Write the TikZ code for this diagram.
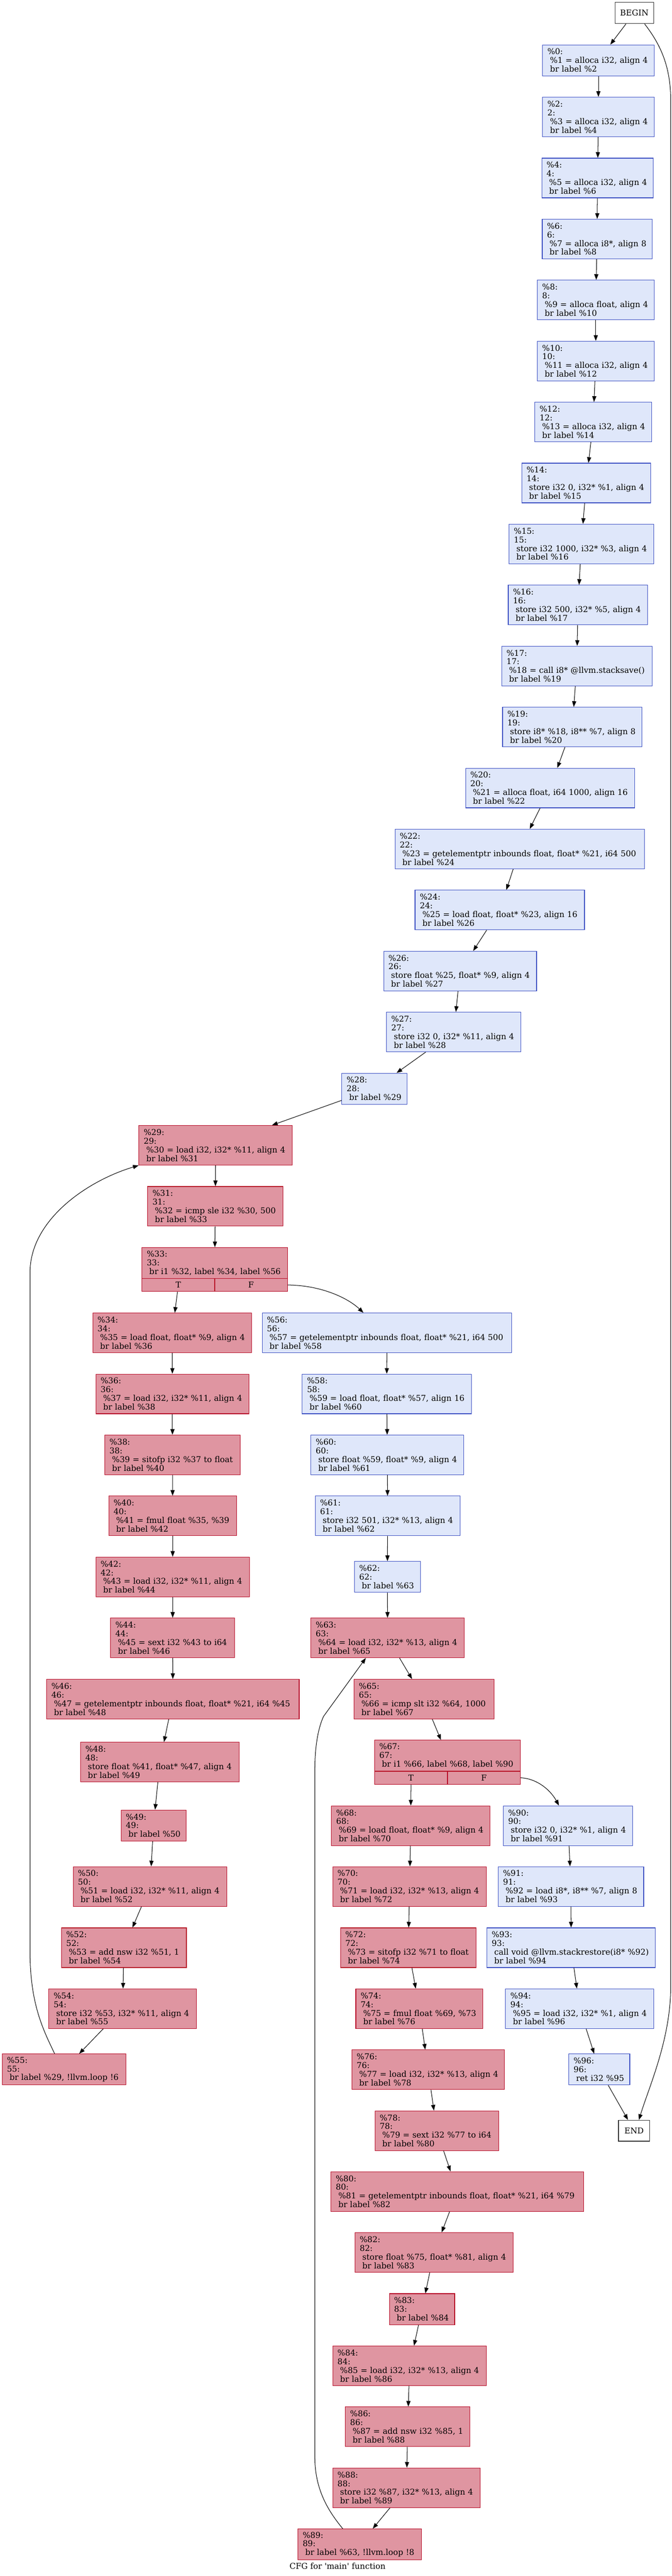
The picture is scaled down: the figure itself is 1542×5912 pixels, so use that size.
\documentclass[tikz,border=0pt]{standalone}
\usepackage{fontspec}
\setmainfont{DejaVu Serif}
\usetikzlibrary{arrows.meta,calc}
\definecolor{rfill}{HTML}{DF95A1}
\definecolor{rdraw}{HTML}{B70D28}
\definecolor{bfill}{HTML}{DFE7FA}
\definecolor{bdraw}{HTML}{3D50C3}
\newcommand\myind{\hspace*{0.318em}}
\newcommand\instr[1]{\mbox{\myind#1}}
\newcommand\blkfour[3]{\%#1:\\#1:\\\instr{#2}\\\instr{#3}}
\newcommand\blkthree[2]{\%#1:\\#1:\\\instr{#2}}
\newcommand\cfgfont{\fontsize{18.5}{20}\selectfont}
\tikzset{
  base/.style={rectangle, draw, line width=1.3pt, inner xsep=11pt, inner ysep=0pt,
    align=left, font=\cfgfont, minimum height=91pt},
  rn/.style={base, fill=rfill, draw=rdraw},
  bn/.style={base, fill=bfill, draw=bdraw},
  h3/.style={minimum height=71pt},
  bw/.code={\pgfmathsetmacro\tw{#1-22}\edef\tmp{\noexpand\tikzset{minimum width=#1pt,text width=\tw pt}}\tmp},
  cell/.style={rectangle, draw=rdraw, fill=rfill, line width=1.3pt, minimum height=30pt,
    inner sep=0pt, font=\cfgfont},
  term/.style={rectangle, draw=black!80, line width=1.5pt, fill=white, font=\cfgfont, inner sep=0pt},
  edge/.style={draw=black, line width=1.2pt, -{Triangle[length=13pt,width=9.5pt]}}
}
\begin{document}
\begin{tikzpicture}[x=1pt,y=-1pt]
\useasboundingbox (0,0) rectangle (1542,5912);
% terminals
\node[term, minimum width=89pt, minimum height=49pt] (nbegin) at (1456.5,29.5) {BEGIN};
\node[term, minimum width=72pt, minimum height=48pt] (nend) at (1456,4890) {END};
% entry chain
\node[bn,h3,bw=256] (n0) at (1374,138.5) {\%0:\\\instr{\%1 = alloca i32, align 4}\\\instr{br label \%2}};
\node[bn,bw=256] (n2) at (1374,268.5) {\blkfour{2}{\%3 = alloca i32, align 4}{br label \%4}};
\node[bn,bw=256] (n4) at (1372,408.5) {\blkfour{4}{\%5 = alloca i32, align 4}{br label \%6}};
\node[bn,bw=252] (n6) at (1371,548.5) {\blkfour{6}{\%7 = alloca i8*, align 8}{br label \%8}};
\node[bn,bw=268] (n8) at (1368,688.5) {\blkfour{8}{\%9 = alloca float, align 4}{br label \%10}};
\node[bn,bw=268] (n10) at (1368,828.5) {\blkfour{10}{\%11 = alloca i32, align 4}{br label \%12}};
\node[bn,bw=268] (n12) at (1362,968.5) {\blkfour{12}{\%13 = alloca i32, align 4}{br label \%14}};
\node[bn,bw=296] (n14) at (1346,1108.5) {\blkfour{14}{store i32 0, i32* \%1, align 4}{br label \%15}};
\node[bn,bw=332] (n15) at (1335,1248.5) {\blkfour{15}{store i32 1000, i32* \%3, align 4}{br label \%16}};
\node[bn,bw=320] (n16) at (1327,1388.5) {\blkfour{16}{store i32 500, i32* \%5, align 4}{br label \%17}};
\node[bn,bw=345] (n17) at (1324.5,1528.5) {\blkfour{17}{\%18 = call i8* @llvm.stacksave()}{br label \%19}};
\node[bn,bw=320] (n19) at (1314,1668.5) {\blkfour{19}{store i8* \%18, i8** \%7, align 8}{br label \%20}};
\node[bn,bw=388] (n20) at (1263,1808.5) {\blkfour{20}{\%21 = alloca float, i64 1000, align 16}{br label \%22}};
\node[bn,bw=573] (n22) at (1193.5,1948.5) {\blkfour{22}{\%23 = getelementptr inbounds float, float* \%21, i64 500}{br label \%24}};
\node[bn,bw=389] (n24) at (1147.5,2088.5) {\blkfour{24}{\%25 = load float, float* \%23, align 16}{br label \%26}};
\node[bn,bw=351] (n26) at (1056.5,2228.5) {\blkfour{26}{store float \%25, float* \%9, align 4}{br label \%27}};
\node[bn,bw=309] (n27) at (1042,2368.5) {\blkfour{27}{store i32 0, i32* \%11, align 4}{br label \%28}};
\node[bn,h3,bw=150] (n28) at (860,2498.5) {\blkthree{28}{br label \%29}};
% first loop
\node[rn,bw=352] (n29) at (495,2628.5) {\blkfour{29}{\%30 = load i32, i32* \%11, align 4}{br label \%31}};
\node[rn,bw=311] (n31) at (494.5,2768.5) {\blkfour{31}{\%32 = icmp sle i32 \%30, 500}{br label \%33}};
\node[rn,h3,bw=334] (n33) at (493,2898.5) {\blkthree{33}{br i1 \%32, label \%34, label \%56}};
\node[cell, minimum width=167pt] (n33T) at (409.5,2949) {T};
\node[cell, minimum width=167pt] (n33F) at (576.5,2949) {F};
\node[rn,bw=365] (n34) at (395.5,3059) {\blkfour{34}{\%35 = load float, float* \%9, align 4}{br label \%36}};
\node[rn,bw=352] (n36) at (396,3199) {\blkfour{36}{\%37 = load i32, i32* \%11, align 4}{br label \%38}};
\node[rn,bw=311] (n38) at (396,3339) {\blkfour{38}{\%39 = sitofp i32 \%37 to float}{br label \%40}};
\node[rn,bw=293] (n40) at (396.5,3479) {\blkfour{40}{\%41 = fmul float \%35, \%39}{br label \%42}};
\node[rn,bw=353] (n42) at (396.5,3619) {\blkfour{42}{\%43 = load i32, i32* \%11, align 4}{br label \%44}};
\node[rn,bw=285] (n44) at (396.5,3759) {\blkfour{44}{\%45 = sext i32 \%43 to i64}{br label \%46}};
\node[rn,bw=580] (n46) at (397,3899.5) {\blkfour{46}{\%47 = getelementptr inbounds float, float* \%21, i64 \%45}{br label \%48}};
\node[rn,bw=364] (n48) at (367,4044) {\blkfour{48}{store float \%41, float* \%47, align 4}{br label \%49}};
\node[rn,h3,bw=149] (n49) at (352.5,4189.5) {\blkthree{49}{br label \%50}};
\node[rn,bw=353] (n50) at (344.5,4329.5) {\blkfour{50}{\%51 = load i32, i32* \%11, align 4}{br label \%52}};
\node[rn,bw=287] (n52) at (284.5,4470) {\blkfour{52}{\%53 = add nsw i32 \%51, 1}{br label \%54}};
\node[rn,bw=339] (n54) at (281.5,4610) {\blkfour{54}{store i32 \%53, i32* \%11, align 4}{br label \%55}};
\node[rn,h3,bw=284] (n55) at (147,4749.5) {\blkthree{55}{br label \%29, !llvm.loop !6}};
% between loops
\node[bn,bw=573] (n56) at (888.5,3059) {\blkfour{56}{\%57 = getelementptr inbounds float, float* \%21, i64 500}{br label \%58}};
\node[bn,bw=388] (n58) at (888,3199) {\blkfour{58}{\%59 = load float, float* \%57, align 16}{br label \%60}};
\node[bn,bw=351] (n60) at (889.5,3339) {\blkfour{60}{store float \%59, float* \%9, align 4}{br label \%61}};
\node[bn,bw=332] (n61) at (890,3479) {\blkfour{61}{store i32 501, i32* \%13, align 4}{br label \%62}};
\node[bn,h3,bw=151] (n62) at (889.5,3619) {\blkthree{62}{br label \%63}};
% second loop
\node[rn,bw=352] (n63) at (890,3759) {\blkfour{63}{\%64 = load i32, i32* \%13, align 4}{br label \%65}};
\node[rn,bw=321] (n65) at (973.5,3899.5) {\blkfour{65}{\%66 = icmp slt i32 \%64, 1000}{br label \%67}};
\node[rn,h3,bw=335] (n67) at (1027.5,4029.5) {\blkthree{67}{br i1 \%66, label \%68, label \%90}};
\node[cell, minimum width=167.5pt] (n67T) at (943.75,4080) {T};
\node[cell, minimum width=167.5pt] (n67F) at (1111.25,4080) {F};
\node[rn,bw=364] (n68) at (943,4190) {\blkfour{68}{\%69 = load float, float* \%9, align 4}{br label \%70}};
\node[rn,bw=353] (n70) at (940.5,4329.5) {\blkfour{70}{\%71 = load i32, i32* \%13, align 4}{br label \%72}};
\node[rn,bw=311] (n72) at (937.5,4470) {\blkfour{72}{\%73 = sitofp i32 \%71 to float}{br label \%74}};
\node[rn,bw=292] (n74) at (963,4610) {\blkfour{74}{\%75 = fmul float \%69, \%73}{br label \%76}};
\node[rn,bw=350] (n76) at (983,4750) {\blkfour{76}{\%77 = load i32, i32* \%13, align 4}{br label \%78}};
\node[rn,bw=284] (n78) at (1003,4890) {\blkfour{78}{\%79 = sext i32 \%77 to i64}{br label \%80}};
\node[rn,bw=580] (n80) at (1050,5029.5) {\blkfour{80}{\%81 = getelementptr inbounds float, float* \%21, i64 \%79}{br label \%82}};
\node[rn,bw=363] (n82) at (996.5,5169.5) {\blkfour{82}{store float \%75, float* \%81, align 4}{br label \%83}};
\node[rn,h3,bw=150] (n83) at (969,5299.5) {\blkthree{83}{br label \%84}};
\node[rn,bw=353] (n84) at (940.5,5429.5) {\blkfour{84}{\%85 = load i32, i32* \%13, align 4}{br label \%86}};
\node[rn,bw=286] (n86) at (936,5569.5) {\blkfour{86}{\%87 = add nsw i32 \%85, 1}{br label \%88}};
\node[rn,bw=339] (n88) at (933.5,5709.5) {\blkfour{88}{store i32 \%87, i32* \%13, align 4}{br label \%89}};
\node[rn,h3,bw=284] (n89) at (826,5839.5) {\blkthree{89}{br label \%63, !llvm.loop !8}};
% exit chain
\node[bn,bw=297] (n90) at (1304.5,4190) {\blkfour{90}{store i32 0, i32* \%1, align 4}{br label \%91}};
\node[bn,bw=334] (n91) at (1311,4329.5) {\blkfour{91}{\%92 = load i8*, i8** \%7, align 8}{br label \%93}};
\node[bn,bw=387] (n93) at (1311.5,4470) {\blkfour{93}{call void @llvm.stackrestore(i8* \%92)}{br label \%94}};
\node[bn,bw=340] (n94) at (1331,4610) {\blkfour{94}{\%95 = load i32, i32* \%1, align 4}{br label \%96}};
\node[bn,h3,bw=140] (n96) at (1376,4749.5) {\blkthree{96}{ret i32 \%95}};
% caption
\node[font=\cfgfont, inner sep=0pt] (cap) at (775,5889) {CFG for \textquotesingle main\textquotesingle\ function};
% edges
\draw[edge] (nbegin) -- (n0);
\draw[edge] ($(nbegin.south)+(23.5,0)$) .. controls (1515,100) and (1540,150) .. (1540,230) -- (1540,4560) .. controls (1540,4680) and (1490,4790) .. ($(nend.north)+(11,0)$);
\foreach \a/\b in {n0/n2,n2/n4,n4/n6,n6/n8,n8/n10,n10/n12,n12/n14,n14/n15,n15/n16,n16/n17,n17/n19,n19/n20,n20/n22,n22/n24,n24/n26,n26/n27,n27/n28,n28/n29,
  n29/n31,n31/n33,n33T/n34,n34/n36,n36/n38,n38/n40,n40/n42,n42/n44,n44/n46,n46/n48,n48/n49,n49/n50,n50/n52,n52/n54,n54/n55,
  n56/n58,n58/n60,n60/n61,n61/n62,n62/n63,n63/n65,n65/n67,n67T/n68,n68/n70,n70/n72,n72/n74,n74/n76,n76/n78,n78/n80,n80/n82,n82/n83,n83/n84,n84/n86,n86/n88,n88/n89,
  n90/n91,n91/n93,n93/n94,n94/n96,n96/nend}
  \draw[edge] (\a) -- (\b);
\draw[edge] (n33F.east) .. controls (740,2950) and (800,2980) .. ($(n56.north)+(-54,0)$);
\draw[edge] (n67F.east) .. controls (1235,4082) and (1265,4110) .. ($(n90.north)+(-21,0)$);
\draw[edge] ($(n55.north)+(-21.5,0)$) .. controls (100,4660) and (69,4600) .. (69,4480) -- (69,2920) .. controls (69,2800) and (200,2710) .. (n29.south west);
\draw[edge] ($(n89.north)+(-39,0)$) .. controls (760,5770) and (723,5720) .. (723,5640) -- (723,4060) .. controls (723,4000) and (733,3960) .. (743,3939) -- ($(n63.south)+(-50,0)$);
\end{tikzpicture}
\end{document}
